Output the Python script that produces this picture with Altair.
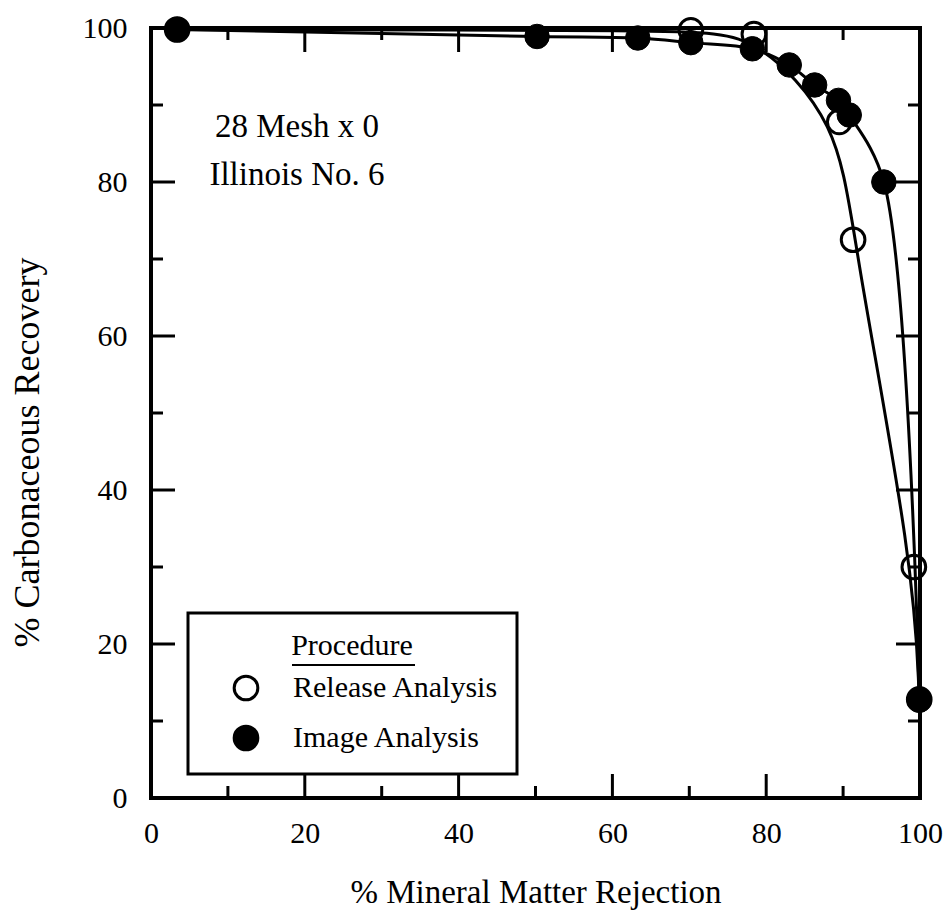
import altair as alt
import pandas as pd

# ---- data ----
release_x = [3.4, 70.2, 78.4, 89.5, 91.3, 99.2, 99.9]
release_y = [99.8, 99.7, 99.2, 87.8, 72.5, 30.0, 12.8]

image_x = [3.4, 50.2, 63.3, 70.2, 78.2, 83.0, 86.3, 89.4, 90.8, 95.3, 99.9]
image_y = [99.8, 98.9, 98.7, 98.1, 97.3, 95.2, 92.6, 90.6, 88.7, 80.0, 12.7]

series_names = ["Release Analysis", "Image Analysis"]
major_ticks = [0, 20, 40, 60, 80, 100]
minor_ticks = [10, 30, 50, 70, 90]
annotation = ["28 Mesh x 0", "Illinois No. 6"]

W, H = 769, 770
FONT = "Liberation Serif"
MAJ, MIN = 24, 12

rel = pd.DataFrame({"x": release_x, "y": release_y, "series": series_names[0]})
img = pd.DataFrame({"x": image_x, "y": image_y, "series": series_names[1]})

xscale = alt.Scale(domain=[0, 100], nice=False, zero=False)
yscale = alt.Scale(domain=[0, 100], nice=False, zero=False)
xaxis = alt.Axis(values=major_ticks, title="% Mineral Matter Rejection",
                 labelPadding=20, titlePadding=28, labelFlush=False,
                 labelOverlap=False, titleFontSize=33)
yaxis = alt.Axis(values=major_ticks, title="% Carbonaceous Recovery",
                 labelPadding=24, titlePadding=36, labelFlush=False,
                 labelOverlap=False, titleFontSize=36, titleY=424)

X = alt.X("x:Q", scale=xscale, axis=xaxis)
Y = alt.Y("y:Q", scale=yscale, axis=yaxis)

fill = alt.Fill("series:N",
                scale=alt.Scale(domain=series_names, range=["transparent", "black"]),
                legend=alt.Legend(title="Procedure"))

line_rel = alt.Chart(rel).mark_line(color="black", strokeWidth=3,
                                    interpolate="basis").encode(x=X, y=Y)
line_img = alt.Chart(img).mark_line(color="black", strokeWidth=3,
                                    interpolate="catmull-rom").encode(x=X, y=Y)

pts_rel = alt.Chart(rel).mark_point(filled=True, stroke="black", strokeWidth=3,
                                    size=560, opacity=1, shape="circle").encode(
    x=X, y=Y, fill=fill
)
pts_img = alt.Chart(img).mark_point(filled=True, stroke="black", strokeWidth=1,
                                    size=600, opacity=1, shape="circle").encode(
    x=X, y=Y, fill=fill
)

xmaj = pd.DataFrame({"x": major_ticks})
xmin = pd.DataFrame({"x": minor_ticks})
ymaj = pd.DataFrame({"y": major_ticks})
ymin = pd.DataFrame({"y": minor_ticks})

def xticks(df, L):
    bottom = alt.Chart(df).mark_rule(color="black", strokeWidth=3).encode(
        x=X, y=alt.value(H), y2=alt.value(H - L))
    top = alt.Chart(df).mark_rule(color="black", strokeWidth=3).encode(
        x=X, y=alt.value(0), y2=alt.value(L))
    return [bottom, top]

def yticks(df, L):
    left = alt.Chart(df).mark_rule(color="black", strokeWidth=3).encode(
        y=Y, x=alt.value(0), x2=alt.value(L))
    right = alt.Chart(df).mark_rule(color="black", strokeWidth=3).encode(
        y=Y, x=alt.value(W), x2=alt.value(W - L))
    return [left, right]

ticks = xticks(xmaj, MAJ) + xticks(xmin, MIN) + yticks(ymaj, MAJ) + yticks(ymin, MIN)

note = alt.Chart(pd.DataFrame({"t": [0]})).mark_text(
    font=FONT, fontSize=33, lineHeight=48, align="center", baseline="middle", color="black"
).encode(x=alt.value(146), y=alt.value(99), text=alt.value(annotation))

underline = alt.Chart(pd.DataFrame({"t": [0]})).mark_rule(color="black", strokeWidth=2).encode(
    x=alt.value(141), x2=alt.value(264), y=alt.value(637))

chart = alt.layer(*ticks, line_rel, line_img, pts_rel, pts_img, note, underline).properties(
    width=W, height=H,
    autosize=alt.AutoSizeParams(type="none"),
    padding={"left": 151, "top": 28, "right": 30, "bottom": 118},
).configure_view(
    stroke="black", strokeWidth=4
).configure_axis(
    domain=False, ticks=False, tickSize=0, grid=False,
    labelFont=FONT, titleFont=FONT, labelFontSize=30, titleFontSize=33,
    labelColor="black", titleColor="black", titleFontWeight="normal",
).configure_legend(
    orient="none", legendX=37, legendY=585,
    strokeColor="black", strokeWidth=3, padding=18,
    titleFont=FONT, titleFontSize=30, titleFontWeight="normal", titleColor="black",
    titleAnchor="middle", titlePadding=12,
    labelFont=FONT, labelFontSize=30, labelColor="black", labelLimit=400,
    symbolSize=560, symbolStrokeColor="black", symbolStrokeWidth=3,
    symbolOffset=25, labelOffset=32, rowPadding=14, symbolType="circle",
)

chart.save("out.html", embed_options={"renderer": "svg", "actions": False})
